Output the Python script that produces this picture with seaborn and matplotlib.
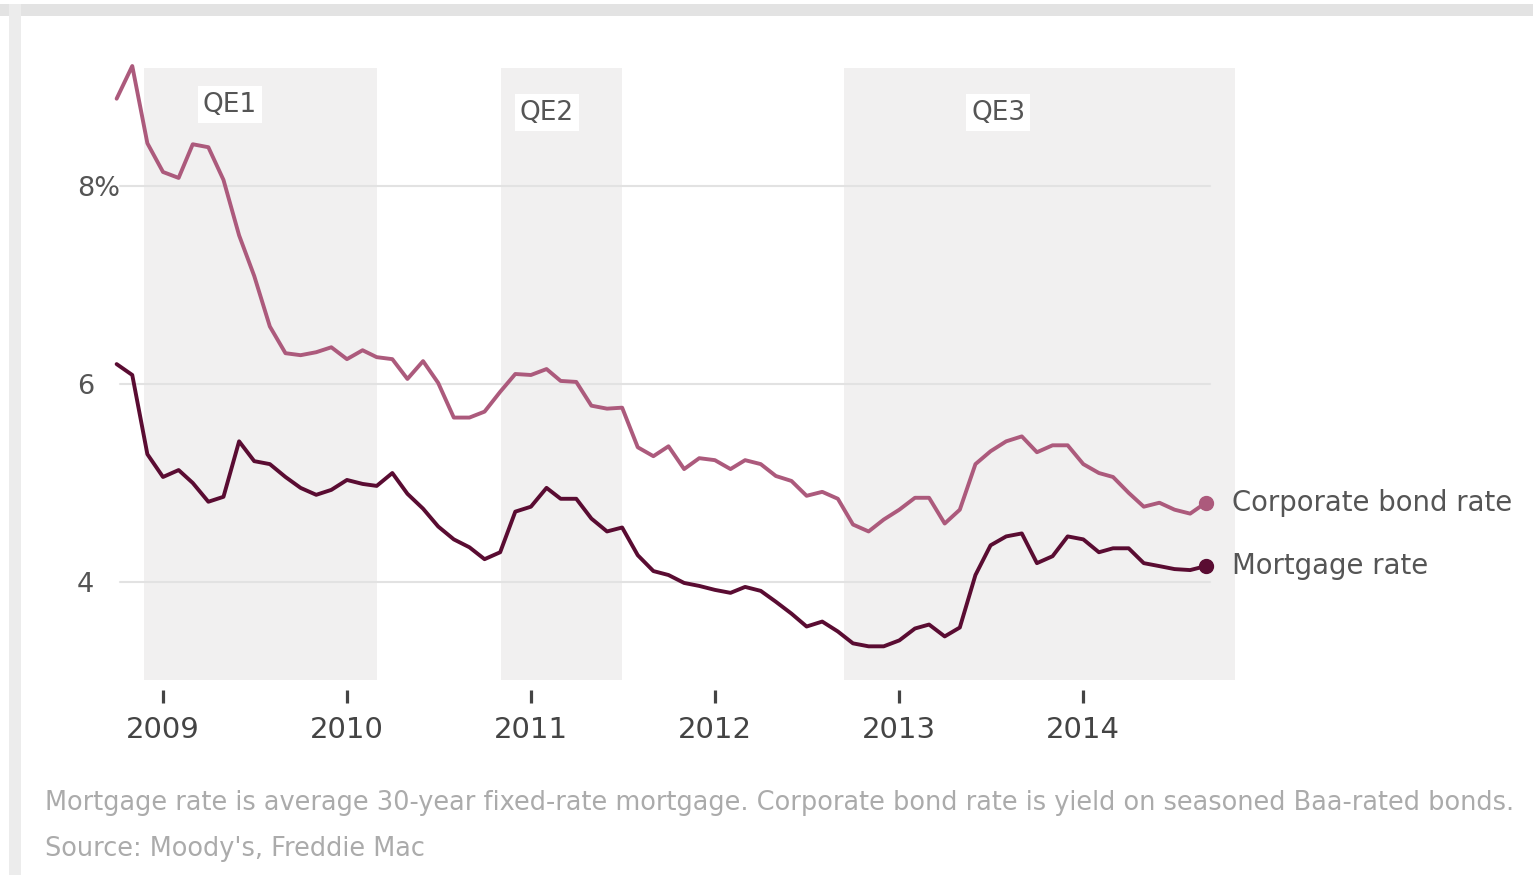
import matplotlib
matplotlib.use("Agg")
import matplotlib.pyplot as plt
from matplotlib.patches import Rectangle
import pandas as pd
import seaborn as sns

# ── Data (monthly, Oct 2008 – Sep 2014) ───────────────────────────────────────
MONTHS = pd.date_range("2008-10-01", "2014-09-01", freq="MS")

CORPORATE = [
    8.88, 9.21, 8.43,                                                  # 2008
    8.14, 8.08, 8.42, 8.39, 8.06, 7.50, 7.09, 6.58, 6.31, 6.29, 6.32, 6.37,  # 2009
    6.25, 6.34, 6.27, 6.25, 6.05, 6.23, 6.01, 5.66, 5.66, 5.72, 5.92, 6.10,  # 2010
    6.09, 6.15, 6.03, 6.02, 5.78, 5.75, 5.76, 5.36, 5.27, 5.37, 5.14, 5.25,  # 2011
    5.23, 5.14, 5.23, 5.19, 5.07, 5.02, 4.87, 4.91, 4.84, 4.58, 4.51, 4.63,  # 2012
    4.73, 4.85, 4.85, 4.59, 4.73, 5.19, 5.32, 5.42, 5.47, 5.31, 5.38, 5.38,  # 2013
    5.19, 5.10, 5.06, 4.90, 4.76, 4.80, 4.73, 4.69, 4.80,                    # 2014
]
MORTGAGE = [
    6.20, 6.09, 5.29,
    5.06, 5.13, 5.00, 4.81, 4.86, 5.42, 5.22, 5.19, 5.06, 4.95, 4.88, 4.93,
    5.03, 4.99, 4.97, 5.10, 4.89, 4.74, 4.56, 4.43, 4.35, 4.23, 4.30, 4.71,
    4.76, 4.95, 4.84, 4.84, 4.64, 4.51, 4.55, 4.27, 4.11, 4.07, 3.99, 3.96,
    3.92, 3.89, 3.95, 3.91, 3.80, 3.68, 3.55, 3.60, 3.50, 3.38, 3.35, 3.35,
    3.41, 3.53, 3.57, 3.45, 3.54, 4.07, 4.37, 4.46, 4.49, 4.19, 4.26, 4.46,
    4.43, 4.30, 4.34, 4.34, 4.19, 4.16, 4.13, 4.12, 4.16,
]

QE_NAMES  = ["QE1", "QE2", "QE3"]
QE_STARTS = ["2008-11-25", "2010-11-03", "2012-09-13"]
QE_ENDS   = ["2010-03-01", "2011-06-30", "2014-10-29"]

Y_TICKS  = [4, 6, 8]
Y_LABELS = ["4", "6", "8%"]
X_YEARS  = [2009, 2010, 2011, 2012, 2013, 2014]

NOTE   = ("Mortgage rate is average 30-year fixed-rate mortgage. "
          "Corporate bond rate is yield on seasoned Baa-rated bonds.")
SOURCE = "Source: Moody's, Freddie Mac"

# ── Style ─────────────────────────────────────────────────────────────────────
CORP_CLR = "#ac5a7c"
MORT_CLR = "#5a0c32"
SHADE    = "#f1f0f0"
GRID_CLR = "#e2e2e2"
TEXT_CLR = "#555555"
NOTE_CLR = "#ababab"

sns.set_theme(style="white")
plt.rcParams["font.family"] = ["DejaVu Sans"]

W, H, DPI = 1533, 875, 100
fig = plt.figure(figsize=(W / DPI, H / DPI), dpi=DPI)

# axes placed in pixel terms
ax_l, ax_r, ax_t, ax_b = 100, 1235, 68, 690
ax = fig.add_axes([ax_l / W, 1 - ax_b / H, (ax_r - ax_l) / W, (ax_b - ax_t) / H])

df = pd.DataFrame({"date": MONTHS, "corp": CORPORATE, "mort": MORTGAGE})

# QE shading
for name, s, e in zip(QE_NAMES, QE_STARTS, QE_ENDS):
    ax.axvspan(pd.Timestamp(s), pd.Timestamp(e), ymin=10 / 622, ymax=1.0,
               color=SHADE, lw=0, zorder=0)

for yv in Y_TICKS:
    ax.axhline(yv, xmin=20 / 1135, xmax=1110 / 1135, color=GRID_CLR, lw=1.5, zorder=1)

sns.lineplot(data=df, x="date", y="corp", color=CORP_CLR, lw=2.8, ax=ax, zorder=3)
sns.lineplot(data=df, x="date", y="mort", color=MORT_CLR, lw=2.8, ax=ax, zorder=3)
for line in ax.lines:
    line.set_clip_on(False)

# end dots + direct labels
for vals, clr, lab in [(CORPORATE, CORP_CLR, "Corporate bond rate"),
                       (MORTGAGE, MORT_CLR, "Mortgage rate")]:
    ax.plot(MONTHS[-1], vals[-1], "o", ms=10, color=clr, zorder=4, clip_on=False)
    ax.annotate(lab, (MONTHS[-1], vals[-1]), xytext=(19, 0), textcoords="offset points",
                va="center", ha="left", fontsize=19.8, color=TEXT_CLR, annotation_clip=False)

# QE labels
qe_label_pos = [("2009-05-14", 8.82), ("2011-02-02", 8.74), ("2013-07-16", 8.74)]
for name, (xd, yv) in zip(QE_NAMES, qe_label_pos):
    ax.text(pd.Timestamp(xd), yv, name, ha="center", va="center", fontsize=19,
            color=TEXT_CLR, zorder=5,
            bbox=dict(boxstyle="square,pad=0.2", fc="white", ec="none"))

ax.set_xlim(pd.Timestamp("2008-08-29"), pd.Timestamp("2014-10-29"))
ax.set_ylim(2.909, 9.19)

ax.set_yticks(Y_TICKS)
ax.set_yticklabels(Y_LABELS, ha="left", fontsize=19.5, color=TEXT_CLR)
ax.tick_params(axis="y", length=0, pad=16.5)

ax.set_xticks([pd.Timestamp(f"{y}-01-01") for y in X_YEARS])
ax.set_xticklabels([str(y) for y in X_YEARS], fontsize=21, color="#444444")
ax.tick_params(axis="x", direction="out", length=9, width=2.3, color="#444444",
               pad=10, bottom=True)

ax.set_xlabel("")
ax.set_ylabel("")
ax.set_facecolor("none")
for sp in ax.spines.values():
    sp.set_visible(False)

# footnotes
fig.text(45 / W, 1 - 803 / H, NOTE, fontsize=18.45, color=NOTE_CLR, va="center", ha="left")
fig.text(45 / W, 1 - 849 / H, SOURCE, fontsize=18.45, color=NOTE_CLR, va="center", ha="left")

# screenshot frame
fig.patches.append(Rectangle((0, 1 - 16 / H), 1, 12 / H, transform=fig.transFigure,
                             color="#e3e3e3", lw=0, zorder=-1))
fig.patches.append(Rectangle((9 / W, 0), 12 / W, 1 - 4 / H, transform=fig.transFigure,
                             color="#ececec", lw=0, zorder=-1))

fig.savefig("out.png", dpi=DPI, facecolor="white")
plt.close(fig)
